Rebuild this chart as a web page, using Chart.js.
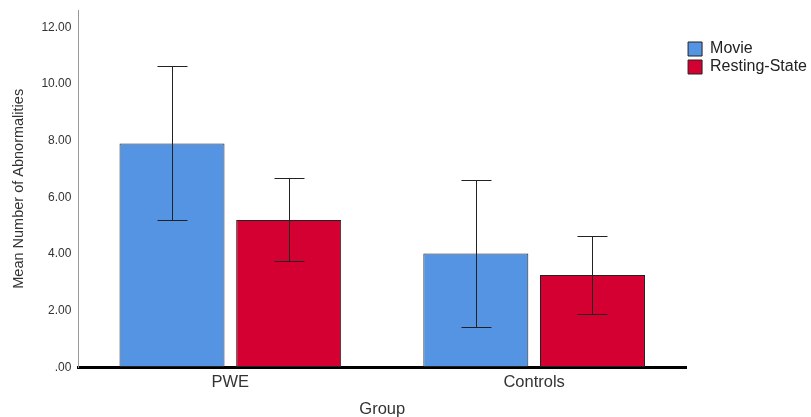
<!DOCTYPE html>
<html>
<head>
<meta charset="utf-8">
<script src="https://cdn.jsdelivr.net/npm/chart.js@4/dist/chart.umd.min.js"></script>
<style>
  html, body { margin: 0; padding: 0; background: #fff; }
  #wrap { width: 811px; height: 417px; }
</style>
</head>
<body>
<div id="wrap"><canvas id="chart"></canvas></div>
<script>
// Group means and 95% CI bounds
const groups = ['PWE', 'Controls'];
const movieMeans = [7.90, 4.02];
const restMeans = [5.20, 3.26];
const movieLow = [5.19, 1.44];
const movieHigh = [10.62, 6.62];
const restLow = [3.76, 1.88];
const restHigh = [6.67, 4.65];
const yTicks = [0, 2, 4, 6, 8, 10, 12];

const errLow = [movieLow, restLow];
const errHigh = [movieHigh, restHigh];

// draws the error bars using the y scale
const errorBars = {
    id: 'errorBars',
    afterDatasetsDraw(chart) {
        const ctx = chart.ctx;
        const y = chart.scales.y;
        ctx.save();
        ctx.strokeStyle = '#222';
        ctx.lineWidth = 1;
        chart.data.datasets.forEach((ds, i) => {
            chart.getDatasetMeta(i).data.forEach((bar, j) => {
                const x = Math.round(bar.x) + 0.5;
                const top = Math.round(y.getPixelForValue(errHigh[i][j])) + 0.5;
                const bot = Math.round(y.getPixelForValue(errLow[i][j])) + 0.5;
                ctx.beginPath();
                ctx.moveTo(x, top);
                ctx.lineTo(x, bot);
                ctx.moveTo(x - 15, top);
                ctx.lineTo(x + 15, top);
                ctx.moveTo(x - 15, bot);
                ctx.lineTo(x + 15, bot);
                ctx.stroke();
            });
        });
        ctx.restore();
    }
};

const font = (size) => ({ family: 'Liberation Sans, Arial', size: size });

new Chart(document.getElementById('chart'), {
    type: 'bar',
    data: {
        labels: groups,
        datasets: [{
            label: 'Movie',
            data: movieMeans,
            backgroundColor: '#5594E2',
            borderColor: '#222',
            borderWidth: 1,
            borderSkipped: false
        }, {
            label: 'Resting-State',
            data: restMeans,
            backgroundColor: '#D50032',
            borderColor: '#222',
            borderWidth: 1,
            borderSkipped: false
        }]
    },
    options: {
        responsive: true,
        maintainAspectRatio: false,
        animation: false,
        categoryPercentage: 0.768,
        barPercentage: 0.9,
        layout: { padding: { top: 6, bottom: -2, left: 0, right: -6 } },
        plugins: {
            tooltip: { enabled: false },
            legend: {
                position: 'right',
                align: 'start',
                title: { display: true, text: ' ', font: { size: 10 }, padding: { top: 0, bottom: 21 } },
                labels: {
                    boxWidth: 14,
                    boxHeight: 14,
                    padding: 2,
                    color: '#222',
                    font: font(16)
                }
            }
        },
        scales: {
            x: {
                grid: { display: false },
                border: { color: '#000', width: 3 },
                ticks: { color: '#333', padding: -3, font: font(16.5) },
                title: {
                    display: true,
                    text: 'Group',
                    color: '#333',
                    padding: { top: 10, bottom: 0 },
                    font: font(16.5)
                }
            },
            y: {
                min: 0,
                max: 12.6,
                grid: { display: true, drawOnChartArea: false, drawTicks: true, tickLength: 4, color: 'rgba(0,0,0,0)' },
                border: { color: '#999', width: 1 },
                afterBuildTicks: (axis) => { axis.ticks = yTicks.map(v => ({ value: v })); },
                ticks: {
                    color: '#333',
                    padding: 3,
                    font: font(12),
                    callback: (v) => v === 0 ? '.00' : v.toFixed(2)
                },
                title: {
                    display: true,
                    text: 'Mean Number of Abnormalities',
                    color: '#333',
                    padding: { top: 10, bottom: 11 },
                    font: font(14.5)
                }
            }
        }
    },
    plugins: [errorBars]
});
</script>
</body>
</html>
